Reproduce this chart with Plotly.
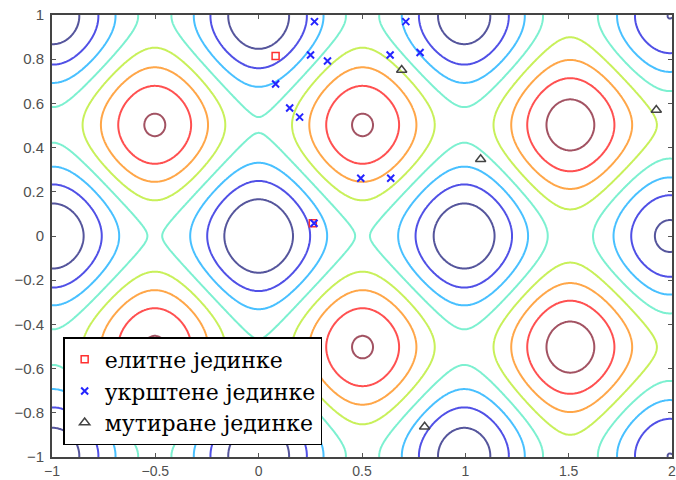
import numpy as np
import plotly.graph_objects as go

# Rastrigin function surface on the search domain
x_range = [-1, 2]
y_range = [-1, 1]
gx = np.linspace(x_range[0], x_range[1], 601)
gy = np.linspace(y_range[0], y_range[1], 401)
GX, GY = np.meshgrid(gx, gy)
Z = 20 + GX**2 + GY**2 - 10 * (np.cos(2 * np.pi * GX) + np.cos(2 * np.pi * GY))

# Contour levels and their line colours (jet-like)
levels = [5, 10, 15, 20, 25, 30, 35, 40]
level_colors = ["#55559c", "#5050e6", "#48c0ff", "#7cf0d0",
                "#c8f05a", "#ffa648", "#ff5050", "#a25262"]

# Population members
elite_x = [0.082, 0.262]
elite_y = [0.815, 0.058]

cross_x = [0.27, 0.251, 0.333, 0.082, 0.15, 0.198, 0.268, 0.712, 0.636, 0.781, 0.494, 0.639]
cross_y = [0.97, 0.819, 0.792, 0.688, 0.579, 0.538, 0.058, 0.97, 0.819, 0.83, 0.261, 0.261]

mut_x = [0.692, 1.924, 1.074, 0.803]
mut_y = [0.751, 0.57, 0.347, -0.863]

x_ticks = [-1, -0.5, 0, 0.5, 1, 1.5, 2]
y_ticks = [-1, -0.8, -0.6, -0.4, -0.2, 0, 0.2, 0.4, 0.6, 0.8, 1]


def tick_text(v):
    return ("\u2212" if v < 0 else "") + ("%g" % abs(v))


n = len(levels)
colorscale = [[i / (n - 1), c] for i, c in enumerate(level_colors)]

fig = go.Figure()
fig.add_trace(go.Contour(
    x=gx, y=gy, z=Z,
    contours=dict(coloring="lines", start=levels[0], end=levels[-1],
                  size=levels[1] - levels[0]),
    colorscale=colorscale, zmin=levels[0], zmax=levels[-1],
    line=dict(width=2), showscale=False, showlegend=False,
    hoverinfo="skip",
))

fig.add_trace(go.Scatter(
    x=elite_x, y=elite_y, mode="markers", name="елитне јединке",
    marker=dict(symbol="square-open", size=7, color="#ff3030",
                line=dict(width=1.5, color="#ff3030")),
))
fig.add_trace(go.Scatter(
    x=cross_x, y=cross_y, mode="markers", name="укрштене јединке",
    marker=dict(symbol="x-thin-open", size=7, color="#2525ff",
                line=dict(width=2, color="#2525ff")),
))
fig.add_trace(go.Scatter(
    x=mut_x, y=mut_y, mode="markers", name="мутиране јединке",
    marker=dict(symbol="triangle-up-open", size=9, color="#444444",
                line=dict(width=1.5, color="#444444")),
))

axis_common = dict(
    showline=True, linecolor="#444444", linewidth=2, mirror="ticks",
    ticks="inside", ticklen=4, tickcolor="#555555", tickwidth=1,
    showgrid=False, zeroline=False, automargin=False,
    ticklabeloverflow="allow",
)

fig.update_layout(
    width=676, height=480,
    margin=dict(l=52, r=4, t=15, b=23),
    paper_bgcolor="white", plot_bgcolor="white",
    xaxis=dict(range=x_range, tickvals=x_ticks, ticklabelstandoff=0,
               tickfont=dict(family="Liberation Sans, Arial", size=14, color="#505050"),
               ticktext=[tick_text(v) for v in x_ticks], **axis_common),
    yaxis=dict(range=y_range, tickvals=y_ticks, ticklabelstandoff=3,
               tickfont=dict(family="Liberation Sans, Arial", size=15, color="#505050"),
               ticktext=[tick_text(v) for v in y_ticks], **axis_common),
    legend=dict(x=0.018, y=0.027, xanchor="left", yanchor="bottom",
                bgcolor="white", bordercolor="black", borderwidth=1.5,
                font=dict(family="DejaVu Serif", size=22, color="black"),
                tracegroupgap=0),
)

fig.write_html("out.html")
